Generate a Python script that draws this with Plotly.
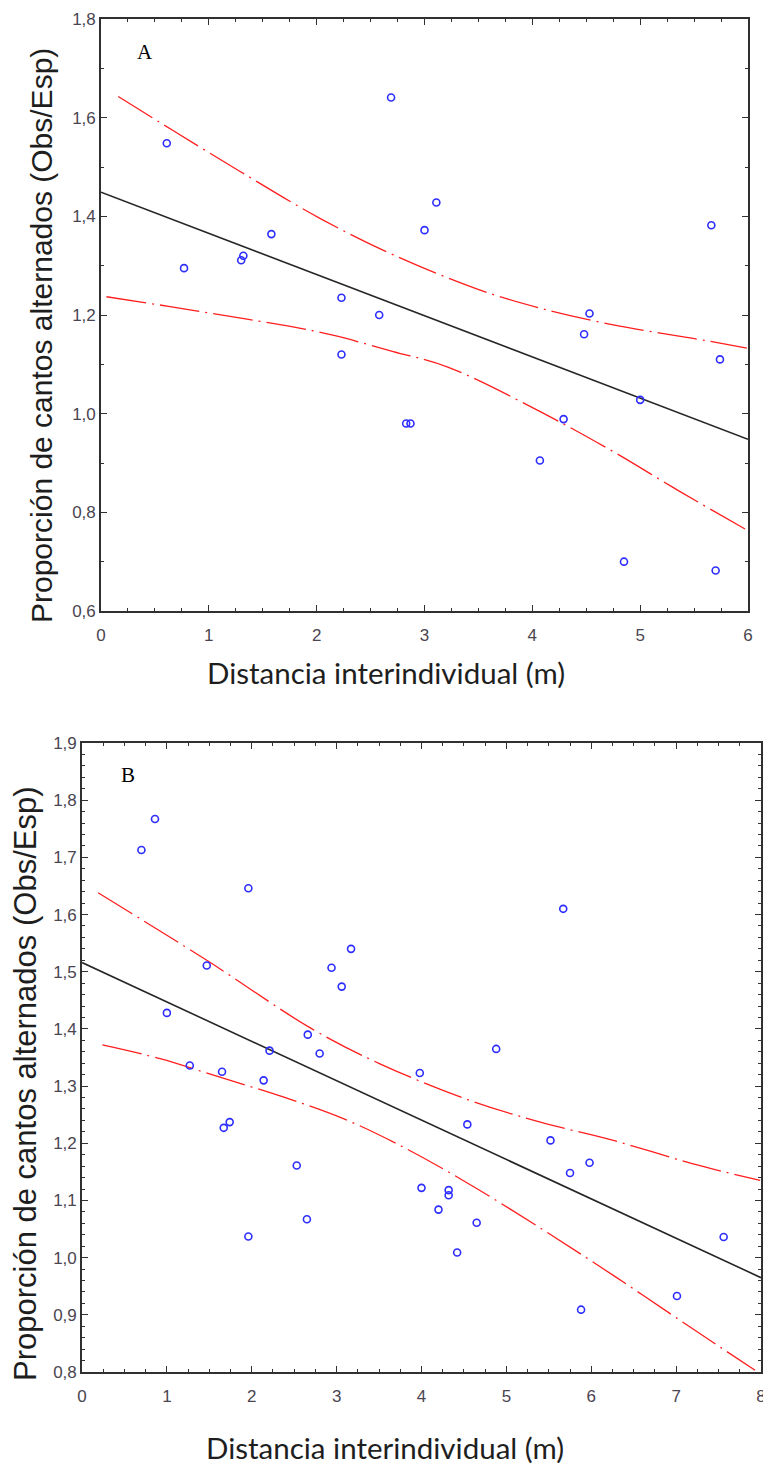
import plotly.graph_objects as go

# Panel A data
a_x = [0.61, 0.77, 1.30, 1.32, 1.58, 2.23, 2.23, 2.58, 2.69, 2.83, 2.87, 3.00,
       3.11, 4.07, 4.29, 4.48, 4.53, 4.85, 5.00, 5.66, 5.70, 5.74]
a_y = [1.548, 1.295, 1.311, 1.320, 1.364, 1.235, 1.120, 1.200, 1.641, 0.980, 0.980, 1.372,
       1.428, 0.905, 0.989, 1.161, 1.203, 0.700, 1.028, 1.382, 0.682, 1.110]
a_fit_x = [0, 6]
a_fit_y = [1.449, 0.948]
a_up_x = [0.16, 0.66, 1.29, 2.03, 2.71, 3.51, 4.07, 4.75, 5.48, 5.99]
a_up_y = [1.643, 1.575, 1.491, 1.396, 1.322, 1.251, 1.214, 1.180, 1.153, 1.133]
a_lo_x = [0.05, 0.64, 1.34, 1.78, 2.15, 2.71, 3.21, 4.10, 4.75, 5.37, 5.99]
a_lo_y = [1.237, 1.217, 1.192, 1.176, 1.159, 1.126, 1.095, 1.001, 0.923, 0.842, 0.764]

# Panel B data
b_x = [0.70, 0.86, 1.00, 1.27, 1.47, 1.65, 1.67, 1.74, 1.96, 1.96, 2.14, 2.21, 2.53,
       2.65, 2.66, 2.80, 2.94, 3.06, 3.17, 3.98, 4.00, 4.20, 4.32, 4.32, 4.42, 4.54,
       4.65, 4.88, 5.52, 5.67, 5.75, 5.88, 5.98, 7.01, 7.56]
b_y = [1.713, 1.767, 1.428, 1.336, 1.511, 1.325, 1.227, 1.237, 1.646, 1.037, 1.310, 1.362, 1.161,
       1.067, 1.390, 1.357, 1.507, 1.474, 1.540, 1.323, 1.122, 1.084, 1.118, 1.109, 1.009, 1.233,
       1.061, 1.365, 1.205, 1.610, 1.148, 0.909, 1.166, 0.933, 1.036]
b_fit_x = [0, 8]
b_fit_y = [1.516, 0.965]
b_up_x = [0.19, 1.47, 2.71, 3.51, 4.57, 5.40, 6.26, 7.20, 7.99]
b_up_y = [1.638, 1.520, 1.400, 1.339, 1.275, 1.237, 1.205, 1.164, 1.135]
b_lo_x = [0.24, 0.92, 1.55, 2.37, 3.08, 3.71, 4.49, 5.44, 6.30, 7.16, 7.93]
b_lo_y = [1.372, 1.348, 1.319, 1.281, 1.243, 1.199, 1.135, 1.048, 0.965, 0.879, 0.803]

point_color = "rgb(45,45,255)"
band_color = "rgb(255,30,30)"
fit_color = "#262626"

fig = go.Figure()


def add_panel(xs, ys, fx, fy, ux, uy, lx, ly, xa, ya):
    for bx, by in ((ux, uy), (lx, ly)):
        fig.add_trace(go.Scatter(
            x=bx, y=by, mode="lines", line_shape="spline",
            line=dict(color=band_color, width=1.3, dash="40px,6px,2px,6px"),
            xaxis=xa, yaxis=ya, showlegend=False, hoverinfo="skip"))
    fig.add_trace(go.Scatter(
        x=fx, y=fy, mode="lines", line=dict(color=fit_color, width=1.6),
        xaxis=xa, yaxis=ya, showlegend=False))
    fig.add_trace(go.Scatter(
        x=xs, y=ys, mode="markers",
        marker=dict(symbol="circle-open", size=7, color=point_color,
                    line=dict(width=1.6, color=point_color)),
        xaxis=xa, yaxis=ya, showlegend=False))


add_panel(a_x, a_y, a_fit_x, a_fit_y, a_up_x, a_up_y, a_lo_x, a_lo_y, "x", "y")
add_panel(b_x, b_y, b_fit_x, b_fit_y, b_up_x, b_up_y, b_lo_x, b_lo_y, "x2", "y2")

tick_font = dict(family="Liberation Sans Narrow, Arial Narrow, Liberation Sans", size=17, color="#4a4550")
axis_common = dict(showline=True, linecolor="#303030", linewidth=1.6, mirror="ticks",
                   ticks="inside", ticklen=6, tickcolor="#303030", showgrid=False,
                   zeroline=False, tickfont=tick_font, automargin=False)

# the page body adds an 8px margin, so positions below are shifted back by it
W, H = 771, 1467
OFF = 8


def px(v):
    return (v - OFF) / W


def py(v):
    return 1 - (v - OFF) / H


fig.update_layout(
    width=W, height=H, margin=dict(l=0, r=0, t=0, b=0),
    paper_bgcolor="white", plot_bgcolor="white", separators=",.",
    xaxis=dict(domain=[px(101), px(748)], range=[0, 6], dtick=1, anchor="y",
               ticklabelstandoff=8,
               minor=dict(ticks="inside", dtick=0.25, ticklen=3, tickcolor="#303030"),
               **axis_common),
    yaxis=dict(domain=[py(611), py(19)], range=[0.6, 1.8], dtick=0.2,
               tickformat=".1f", anchor="x",
               minor=dict(ticks="inside", dtick=0.1, ticklen=3, tickcolor="#303030"),
               **axis_common),
    xaxis2=dict(domain=[px(82), px(761)], range=[0, 8], dtick=1, anchor="y2",
                ticklabelstandoff=8,
                minor=dict(ticks="inside", dtick=0.25, ticklen=3, tickcolor="#303030"),
                **axis_common),
    yaxis2=dict(domain=[py(1372), py(743)], range=[0.8, 1.9], dtick=0.1,
                tickformat=".1f", anchor="x2",
                minor=dict(ticks="inside", dtick=0.02, ticklen=3, tickcolor="#303030"),
                **axis_common),
)

xtitle_font = dict(family="Lato, Open Sans, sans-serif", size=29.5, color="#1e1e1e")
ytitle_font = dict(family="Liberation Sans, Arial, sans-serif", size=30, color="#1e1e1e")
label_font = dict(family="Liberation Serif, Times New Roman, serif", size=21, color="black")

annots = [
    dict(text="Distancia interindividual (m)", x=px(386), y=py(672), font=xtitle_font),
    dict(text="Proporción de cantos alternados (Obs/Esp)", x=px(41), y=py(336),
         textangle=-90, font=ytitle_font),
    dict(text="A", x=px(145), y=py(52), font=label_font),
    dict(text="Distancia interindividual (m)", x=px(385), y=py(1447), font=xtitle_font),
    dict(text="Proporción de cantos alternados (Obs/Esp)", x=px(25), y=py(1084),
         textangle=-90, font=dict(ytitle_font, size=31)),
    dict(text="B", x=px(128), y=py(775), font=label_font),
]
for a in annots:
    fig.add_annotation(xref="paper", yref="paper", showarrow=False,
                       xanchor="center", yanchor="middle", **a)

fig.write_html("out.html")
